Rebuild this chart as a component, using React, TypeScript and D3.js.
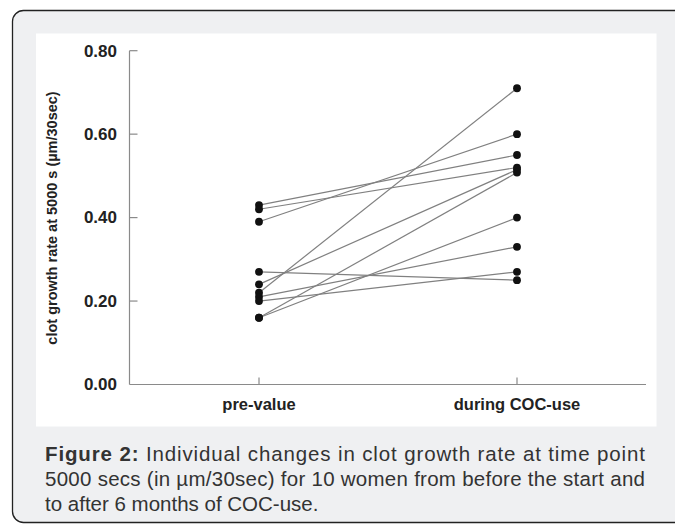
import * as d3 from "d3";
import { FC, useEffect, useRef } from "react";

// categories and tick labels
const categories = ["pre-value", "during COC-use"];
const yTicks = [0, 0.2, 0.4, 0.6, 0.8];

// one value per woman, same order in both arrays
const preValues = [0.43, 0.42, 0.39, 0.27, 0.24, 0.22, 0.21, 0.2, 0.16, 0.16];
const duringValues = [0.55, 0.52, 0.6, 0.25, 0.515, 0.71, 0.33, 0.27, 0.508, 0.4];

const captionLines = [
  "Individual changes in clot growth rate at time point",
  "5000 secs (in µm/30sec) for 10 women from before the start and",
  "to after 6 months of COC-use.",
];

const FONT = "'Liberation Sans', Arial, Helvetica, sans-serif";

const App: FC = () => {
  const svgRef = useRef<SVGSVGElement>(null);

  useEffect(() => {
    const svg = d3.select(svgRef.current);
    svg.selectAll("*").remove();

    // outer grey box and white plot panel
    svg
      .append("rect")
      .attr("x", 12.5)
      .attr("y", 10.5)
      .attr("width", 675)
      .attr("height", 512)
      .attr("rx", 11)
      .attr("fill", "#eff0f2")
      .attr("stroke", "#222")
      .attr("stroke-width", 1.3);
    svg
      .append("rect")
      .attr("x", 36)
      .attr("y", 33.5)
      .attr("width", 620.5)
      .attr("height", 393)
      .attr("fill", "#fff");

    // scales
    const xAxisLeft = 129.5;
    const xAxisRight = 646;
    const yScale = d3.scaleLinear().domain([0, 0.8]).range([384.5, 50.7]);
    const xScale = d3
      .scalePoint<string>()
      .domain(categories)
      .range([259, 517]);

    const g = svg.append("g");

    // y axis: line + inward ticks
    g.append("line")
      .attr("x1", xAxisLeft)
      .attr("x2", xAxisLeft)
      .attr("y1", yScale(0.8))
      .attr("y2", yScale(0))
      .attr("stroke", "#8a8a8a")
      .attr("stroke-width", 1.2);
    g.selectAll("ytick")
      .data(yTicks.filter((d) => d > 0))
      .enter()
      .append("line")
      .attr("x1", xAxisLeft)
      .attr("x2", xAxisLeft + 8)
      .attr("y1", (d) => yScale(d))
      .attr("y2", (d) => yScale(d))
      .attr("stroke", "#8a8a8a")
      .attr("stroke-width", 1.2);
    g.selectAll("ylabel")
      .data(yTicks)
      .enter()
      .append("text")
      .attr("x", 117)
      .attr("y", (d) => yScale(d) + 5.8)
      .attr("text-anchor", "end")
      .attr("font-family", FONT)
      .attr("font-weight", "bold")
      .attr("font-size", 17)
      .attr("fill", "#222")
      .text((d) => d.toFixed(2));

    // x axis: line + upward ticks
    g.append("line")
      .attr("x1", xAxisLeft)
      .attr("x2", xAxisRight)
      .attr("y1", yScale(0))
      .attr("y2", yScale(0))
      .attr("stroke", "#8a8a8a")
      .attr("stroke-width", 1.2);
    g.selectAll("xtick")
      .data(categories)
      .enter()
      .append("line")
      .attr("x1", (d) => xScale(d)!)
      .attr("x2", (d) => xScale(d)!)
      .attr("y1", yScale(0))
      .attr("y2", yScale(0) - 7)
      .attr("stroke", "#8a8a8a")
      .attr("stroke-width", 1.2);
    g.selectAll("xlabel")
      .data(categories)
      .enter()
      .append("text")
      .attr("x", (d) => xScale(d)!)
      .attr("y", 410)
      .attr("text-anchor", "middle")
      .attr("font-family", FONT)
      .attr("font-weight", "bold")
      .attr("font-size", 16.5)
      .attr("fill", "#222")
      .text((d) => d);

    // y axis title
    g.append("text")
      .attr("transform", `translate(57,218) rotate(-90)`)
      .attr("text-anchor", "middle")
      .attr("font-family", FONT)
      .attr("font-weight", "bold")
      .attr("font-size", 14.5)
      .attr("fill", "#222")
      .text("clot growth rate at 5000 s (µm/30sec)");

    // paired lines
    const pairs = preValues.map((p, i) => [p, duringValues[i]]);
    const lineGenerator = d3
      .line<number>()
      .x((_, i) => xScale(categories[i])!)
      .y((d) => yScale(d));
    g.selectAll("pair")
      .data(pairs)
      .enter()
      .append("path")
      .attr("d", (d) => lineGenerator(d))
      .attr("fill", "none")
      .attr("stroke", "#808080")
      .attr("stroke-width", 1.2);

    // dots
    const dots = [
      ...preValues.map((v) => ({ c: categories[0], v })),
      ...duringValues.map((v) => ({ c: categories[1], v })),
    ];
    g.selectAll("dot")
      .data(dots)
      .enter()
      .append("circle")
      .attr("cx", (d) => xScale(d.c)!)
      .attr("cy", (d) => yScale(d.v))
      .attr("r", 3.9)
      .attr("fill", "#111");

    // caption
    const caption = svg
      .append("g")
      .attr("font-family", FONT)
      .attr("font-size", 20.5)
      .attr("fill", "#333");
    const line1 = caption
      .append("text")
      .attr("x", 45)
      .attr("y", 460.5)
      .attr("textLength", 600)
      .attr("lengthAdjust", "spacing");
    line1.append("tspan").attr("font-weight", "bold").text("Figure 2:");
    line1.append("tspan").text(" " + captionLines[0]);
    caption
      .append("text")
      .attr("x", 45)
      .attr("y", 486)
      .attr("textLength", 600)
      .attr("lengthAdjust", "spacing")
      .text(captionLines[1]);
    caption
      .append("text")
      .attr("x", 45)
      .attr("y", 511)
      .text(captionLines[2]);
  }, []);

  return (
    <svg
      ref={svgRef}
      width={675}
      height={524}
      style={{ position: "absolute", left: 0, top: 0, display: "block" }}
    ></svg>
  );
};

export default App;
